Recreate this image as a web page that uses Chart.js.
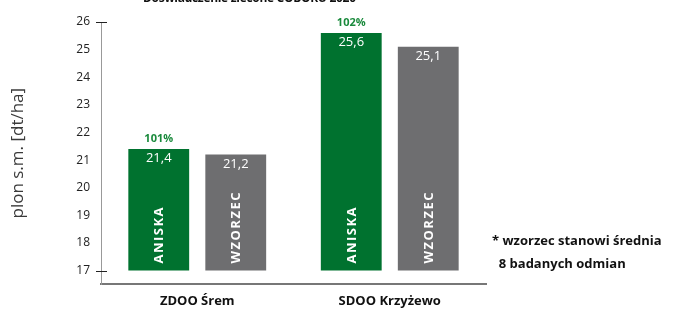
<!DOCTYPE html>
<html lang="pl">
<head>
    <meta charset="UTF-8">
    <title>Doświadczenie zlecone COBORU 2020</title>
    <script src="https://cdn.jsdelivr.net/npm/chart.js"></script>
    <style>
        body {
            margin: 0;
            background: #ffffff;
            font-family: 'Open Sans', sans-serif;
            overflow: hidden;
        }
        .wrap {
            position: relative;
            width: 676px;
            height: 309px;
        }
        .title {
            position: absolute;
            top: -11px;
            left: 143px;
            font-size: 12px;
            letter-spacing: -0.3px;
            font-weight: 700;
            color: #111;
            white-space: nowrap;
        }
        .note {
            position: absolute;
            left: 492px;
            top: 229px;
            font-size: 13px;
            font-weight: 700;
            color: #111;
            line-height: 23px;
            white-space: nowrap;
        }
        canvas {
            position: absolute;
            left: 0;
            top: 0;
        }
    </style>
</head>
<body>
    <div class="wrap">
        <canvas id="chart" width="676" height="309"></canvas>
        <div class="title">Doświadczenie zlecone COBORU 2020</div>
        <div class="note">* wzorzec stanowi średnia<br>&nbsp;&nbsp;8 badanych odmian</div>
    </div>

    <script>
        const categories = ['ZDOO Śrem', 'SDOO Krzyżewo'];
        const seriesNames = ['ANISKA', 'WZORZEC'];
        const aniska = [21.4, 25.6];
        const wzorzec = [21.2, 25.1];
        const percentOfStandard = [101, 102];
        const yTickValues = [17, 18, 19, 20, 21, 22, 23, 24, 25, 26];

        const green = '#00722f';
        const grey = '#6e6e70';

        // labels drawn inside and above the bars
        const barLabels = {
            id: 'barLabels',
            afterDatasetsDraw(chart) {
                const ctx = chart.ctx;
                chart.data.datasets.forEach((ds, di) => {
                    const meta = chart.getDatasetMeta(di);
                    meta.data.forEach((bar, i) => {
                        ctx.save();
                        ctx.fillStyle = '#ffffff';
                        ctx.font = '13px "Open Sans"';
                        ctx.textAlign = 'center';
                        ctx.textBaseline = 'top';
                        ctx.fillText(ds.data[i].toFixed(1).replace('.', ','), bar.x, bar.y + 3);

                        ctx.translate(bar.x, bar.base - 7);
                        ctx.rotate(-Math.PI / 2);
                        ctx.font = 'bold 13px "Open Sans"';
                        ctx.letterSpacing = '1.5px';
                        ctx.textAlign = 'left';
                        ctx.textBaseline = 'middle';
                        ctx.fillText(ds.label, 0, 1);
                        ctx.restore();

                        if (di === 0) {
                            ctx.save();
                            ctx.fillStyle = '#1a8a3c';
                            ctx.font = 'bold 11px "Open Sans"';
                            ctx.textAlign = 'center';
                            ctx.textBaseline = 'middle';
                            ctx.fillText(percentOfStandard[i] + '%', bar.x, bar.y - 10);
                            ctx.restore();
                        }
                    });
                });
            }
        };

        // small cross marks on the y axis at its ends
        const axisMarks = {
            id: 'axisMarks',
            afterDraw(chart) {
                const ctx = chart.ctx;
                const y = chart.scales.y;
                const x0 = chart.chartArea.left;
                ctx.save();
                ctx.strokeStyle = '#222';
                ctx.lineWidth = 1;
                [yTickValues[0], yTickValues[yTickValues.length - 1]].forEach(v => {
                    const py = Math.round(y.getPixelForValue(v)) + 0.5;
                    ctx.beginPath();
                    ctx.moveTo(x0 - 5, py);
                    ctx.lineTo(x0 + 6, py);
                    ctx.stroke();
                });
                ctx.restore();
            }
        };

        new Chart(document.getElementById('chart'), {
            type: 'bar',
            data: {
                labels: categories,
                datasets: [
                    { label: seriesNames[0], data: aniska, backgroundColor: green, base: 17 },
                    { label: seriesNames[1], data: wzorzec, backgroundColor: grey, base: 17 }
                ]
            },
            options: {
                responsive: false,
                animation: false,
                categoryPercentage: 0.8,
                barPercentage: 0.79,
                layout: { padding: { top: 22, right: 190, left: 0, bottom: -9 } },
                plugins: {
                    legend: { display: false },
                    tooltip: { enabled: false }
                },
                scales: {
                    x: {
                        grid: { display: false, drawTicks: false },
                        border: { color: '#777', width: 2 },
                        ticks: {
                            color: '#111',
                            padding: 9,
                            font: { family: 'Open Sans', size: 13, weight: 'bold' }
                        }
                    },
                    y: {
                        min: 16.5,
                        max: 26,
                        afterFit(scale) { scale.width = 101; },
                        afterBuildTicks(scale) {
                            scale.ticks = yTickValues.map(v => ({ value: v }));
                        },
                        grid: { display: false, drawTicks: false },
                        border: { color: '#999', width: 1, dash: [1, 1] },
                        ticks: {
                            color: '#222',
                            padding: 11,
                            font: { family: 'Open Sans', size: 12 }
                        },
                        title: {
                            display: true,
                            text: 'plon s.m. [dt/ha]',
                            color: '#3a3a3a',
                            padding: { top: 8, bottom: 6 },
                            font: { family: 'Open Sans', size: 17, weight: 'normal' }
                        }
                    }
                }
            },
            plugins: [barLabels, axisMarks]
        });
    </script>
</body>
</html>
